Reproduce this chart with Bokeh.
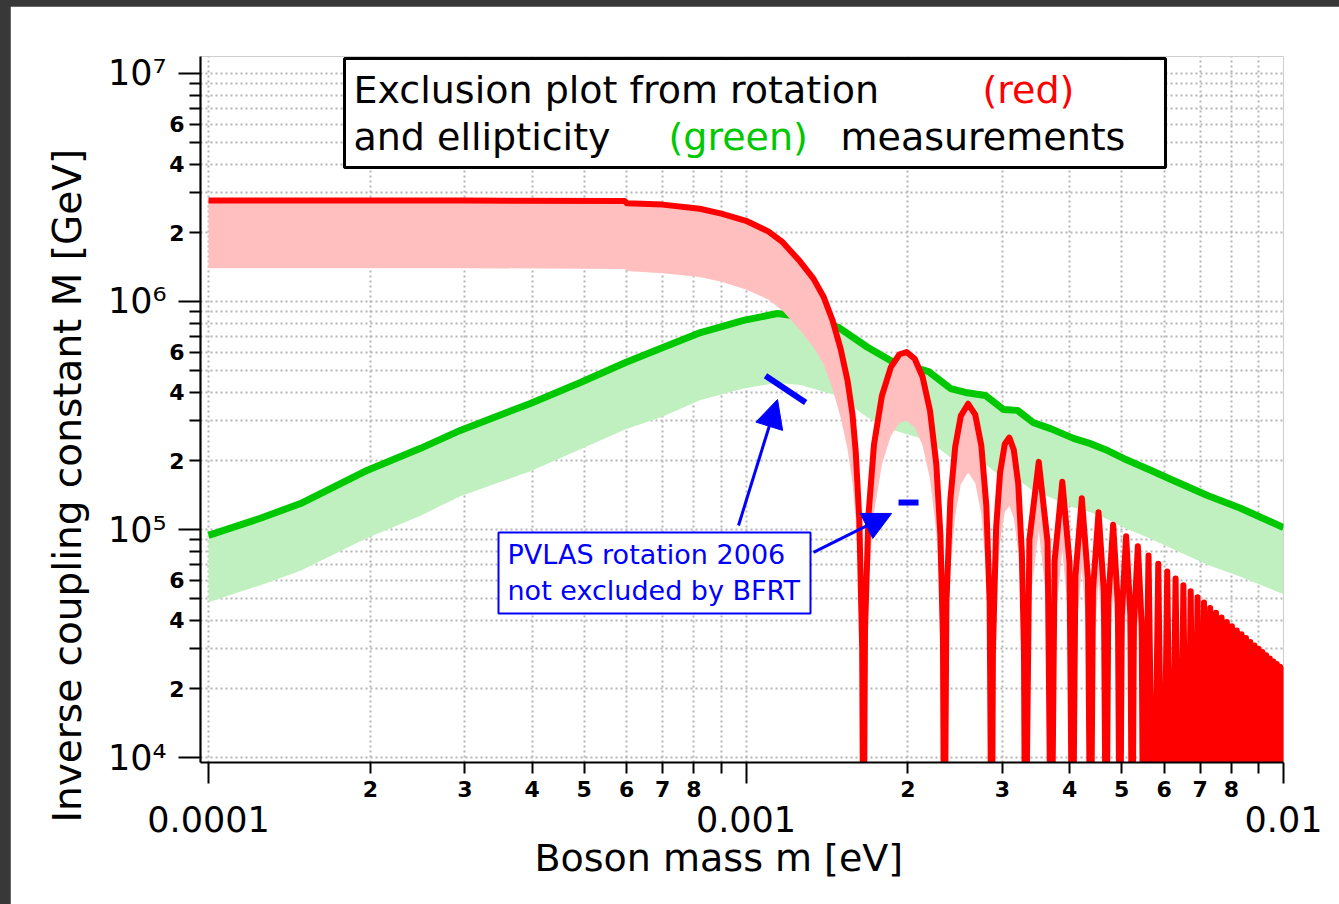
from bokeh.plotting import figure
from bokeh.models import (FixedTicker, LogAxis, Label, BoxAnnotation, Arrow,
                          NormalHead, Title)
from bokeh.embed import file_html
from bokeh.resources import INLINE

FONT = "DejaVu Sans"

# ---------------- data ----------------
x_decades = [1e-4, 1e-3, 1e-2]
x_decade_labels = ["0.0001", "0.001", "0.01"]
x_minor_mantissas = [2, 3, 4, 5, 6, 7, 8, 9]
x_minor_labels = ["2", "3", "4", "5", "6", "7", "8", ""]

y_decades = [1e4, 1e5, 1e6, 1e7]
y_decade_labels = ["10\u2074", "10\u2075", "10\u2076", "10\u2077"]
y_minor_mantissas = [2, 3, 4, 5, 6, 7, 8, 9]
y_minor_labels = ["2", "", "4", "", "6", "", "", ""]

# ellipticity (green): upper line and lower edge of the band
green_m = [1.0e-4, 1.249e-4, 1.483e-4, 1.976e-4, 2.48e-4, 2.94e-4, 3.97e-4, 4.92e-4,
           5.97e-4, 6.93e-4, 8.23e-4, 9.9e-4, 1.144e-3, 1.263e-3, 1.486e-3, 1.683e-3,
           1.857e-3, 2.186e-3, 2.402e-3, 2.561e-3, 2.79e-3, 3.013e-3, 3.2e-3, 3.427e-3,
           3.687e-3, 4.068e-3, 4.375e-3, 4.707e-3, 5.04e-3, 5.66e-3, 6.24e-3, 7.22e-3,
           8.32e-3, 1.0e-2]
green_hi = [9.42e4, 1.12e5, 1.30e5, 1.82e5, 2.27e5, 2.72e5, 3.57e5, 4.41e5,
            5.40e5, 6.22e5, 7.31e5, 8.26e5, 8.86e5, 8.6e5, 7.7e5, 6.3e5,
            5.51e5, 4.93e5, 4.15e5, 3.99e5, 3.87e5, 3.36e5, 3.33e5, 2.94e5,
            2.77e5, 2.51e5, 2.38e5, 2.22e5, 2.05e5, 1.82e5, 1.64e5, 1.41e5,
            1.24e5, 1.02e5]
green_lo = [4.8e4, 5.7e4, 6.6e4, 9.2e4, 1.15e5, 1.4e5, 1.8e5, 2.25e5,
            2.75e5, 3.1e5, 3.7e5, 4.15e5, 4.4e5, 4.3e5, 3.85e5, 3.1e5,
            2.75e5, 2.45e5, 2.07e5, 2.0e5, 1.93e5, 1.68e5, 1.66e5, 1.47e5,
            1.38e5, 1.25e5, 1.19e5, 1.11e5, 1.02e5, 9.1e4, 8.2e4, 7.0e4,
            6.2e4, 5.2e4]

# rotation (red): upper line and lower edge of the band
red_m = [
    1.0e-4, 3.0e-4, 5.95e-4, 6.0e-4, 7.0e-4, 8.2e-4, 9.0e-4, 1.0e-3, 1.1e-3, 1.17e-3,
    1.26e-3, 1.335e-3, 1.394e-3, 1.448e-3, 1.5e-3, 1.545e-3, 1.578e-3, 1.6e-3, 1.625e-3, 1.645e-3,
    1.654e-3,
    1.665e-3, 1.69e-3, 1.73e-3, 1.79e-3, 1.86e-3, 1.93e-3, 1.99e-3, 2.06e-3, 2.13e-3, 2.2e-3,
    2.26e-3, 2.3e-3, 2.325e-3, 2.339e-3,
    2.36e-3, 2.40e-3, 2.45e-3, 2.51e-3, 2.59e-3, 2.67e-3, 2.74e-3, 2.80e-3, 2.84e-3, 2.865e-3,
    2.88e-3, 2.92e-3, 2.97e-3, 3.03e-3, 3.09e-3, 3.15e-3, 3.21e-3, 3.26e-3, 3.29e-3, 3.308e-3,
    3.367e-3, 3.505e-3, 3.64e-3, 3.698e-3,
    3.751e-3, 3.877e-3, 3.998e-3, 4.051e-3,
    4.10e-3, 4.215e-3, 4.327e-3, 4.376e-3,
    4.421e-3, 4.528e-3, 4.633e-3, 4.678e-3,
    4.721e-3, 4.82e-3, 4.919e-3, 4.962e-3,
    5.002e-3, 5.096e-3, 5.19e-3, 5.23e-3,
    5.268e-3, 5.358e-3, 5.448e-3, 5.486e-3,
    5.609e-3, 5.730e-3, 5.848e-3, 5.964e-3, 6.077e-3, 6.189e-3, 6.298e-3, 6.406e-3, 6.512e-3, 6.616e-3,
    6.719e-3, 6.820e-3, 6.919e-3, 7.017e-3, 7.114e-3, 7.210e-3, 7.304e-3, 7.397e-3, 7.489e-3, 7.580e-3,
    7.669e-3, 7.758e-3, 7.846e-3, 7.932e-3, 8.018e-3, 8.103e-3, 8.187e-3, 8.270e-3, 8.352e-3, 8.434e-3,
    8.515e-3, 8.594e-3, 8.674e-3, 8.752e-3, 8.830e-3, 8.907e-3, 8.984e-3, 9.059e-3, 9.135e-3, 9.209e-3,
    9.283e-3, 9.357e-3, 9.429e-3, 9.502e-3, 9.573e-3, 9.645e-3, 9.715e-3, 9.785e-3, 9.855e-3, 9.924e-3,
    9.993e-3, 1.006e-2,
]
red_hi = [
    2.77e6, 2.77e6, 2.76e6, 2.70e6, 2.66e6, 2.55e6, 2.43e6, 2.26e6, 2.03e6, 1.82e6,
    1.50e6, 1.26e6, 1.05e6, 8.3e5, 6.2e5, 4.5e5, 3.2e5, 2.2e5, 1.1e5, 3.0e4,
    2e3,
    3.6e4, 1.16e5, 2.35e5, 3.86e5, 5.15e5, 5.87e5, 6.0e5, 5.61e5, 4.68e5, 3.31e5,
    1.93e5, 9.4e4, 3.3e4, 2e3,
    4.8e4, 1.35e5, 2.3e5, 3.15e5, 3.56e5, 3.19e5, 2.34e5, 1.27e5, 4.8e4, 2e3,
    2.9e4, 1.02e5, 1.78e5, 2.37e5, 2.53e5, 2.23e5, 1.59e5, 7.9e4, 2.9e4, 2e3,
    9.0e4, 1.98e5, 8.8e4, 2e3,
    7.3e4, 1.62e5, 7.2e4, 2e3,
    6.2e4, 1.37e5, 6.1e4, 2e3,
    5.4e4, 1.19e5, 5.3e4, 2e3,
    4.8e4, 1.05e5, 4.7e4, 2e3,
    4.2e4, 9.35e4, 4.2e4, 2e3,
    3.8e4, 8.45e4, 3.8e4, 2e3,
    7.7e4, 2e3, 7.08e4, 2e3, 6.55e4, 2e3, 6.1e4, 2e3, 5.7e4, 2e3,
    5.36e4, 2e3, 5.05e4, 2e3, 4.78e4, 2e3, 4.53e4, 2e3, 4.31e4, 2e3,
    4.11e4, 2e3, 3.93e4, 2e3, 3.76e4, 2e3, 3.61e4, 2e3, 3.47e4, 2e3,
    3.34e4, 2e3, 3.21e4, 2e3, 3.1e4, 2e3, 3.0e4, 2e3, 2.9e4, 2e3,
    2.81e4, 2e3, 2.72e4, 2e3, 2.64e4, 2e3, 2.57e4, 2e3, 2.5e4, 2e3,
    2.43e4, 2e3,
]
red_lo = [
    1.40e6, 1.40e6, 1.39e6, 1.36e6, 1.33e6, 1.28e6, 1.22e6, 1.13e6, 1.02e6, 9.1e5,
    7.5e5, 6.3e5, 5.3e5, 4.15e5, 3.1e5, 2.25e5, 1.6e5, 1.1e5, 5.5e4, 1.5e4,
    2e3,
    1.8e4, 5.8e4, 1.18e5, 1.93e5, 2.58e5, 2.94e5, 3.0e5, 2.8e5, 2.34e5, 1.66e5,
    9.7e4, 4.7e4, 1.65e4, 2e3,
    2.4e4, 6.8e4, 1.15e5, 1.58e5, 1.78e5, 1.6e5, 1.17e5, 6.4e4, 2.4e4, 2e3,
    1.45e4, 5.1e4, 8.9e4, 1.19e5, 1.27e5, 1.12e5, 8.0e4, 4.0e4, 1.45e4, 2e3,
    4.5e4, 9.9e4, 4.4e4, 2e3,
    3.65e4, 8.1e4, 3.6e4, 2e3,
    3.1e4, 6.85e4, 3.05e4, 2e3,
    2.7e4, 5.95e4, 2.65e4, 2e3,
    2.4e4, 5.25e4, 2.35e4, 2e3,
    2.1e4, 4.7e4, 2.1e4, 2e3,
    1.9e4, 4.2e4, 1.9e4, 2e3,
    3.85e4, 2e3, 3.54e4, 2e3, 3.28e4, 2e3, 3.05e4, 2e3, 2.85e4, 2e3,
    2.68e4, 2e3, 2.53e4, 2e3, 2.39e4, 2e3, 2.27e4, 2e3, 2.16e4, 2e3,
    2.06e4, 2e3, 1.97e4, 2e3, 1.88e4, 2e3, 1.8e4, 2e3, 1.74e4, 2e3,
    1.67e4, 2e3, 1.6e4, 2e3, 1.55e4, 2e3, 1.5e4, 2e3, 1.45e4, 2e3,
    1.4e4, 2e3, 1.36e4, 2e3, 1.32e4, 2e3, 1.28e4, 2e3, 1.25e4, 2e3,
    1.22e4, 2e3,
]
assert len(red_m) == len(red_hi) == len(red_lo)
assert len(green_m) == len(green_hi) == len(green_lo)

# PVLAS 2006 rotation region (blue marks)
pvlas_xs = [[1.087e-3, 1.291e-3], [1.922e-3, 2.094e-3]]
pvlas_ys = [[4.73e5, 3.61e5], [1.313e5, 1.313e5]]

# annotation arrows (data coordinates)
arrow_tail_x = [9.684e-4, 1.335e-3]
arrow_tail_y = [1.041e5, 7.93e4]
arrow_tip_x = [1.1446e-3, 1.866e-3]
arrow_tip_y = [3.717e5, 1.176e5]

# ---------------- figure ----------------
p = figure(width=1329, height=898, x_axis_type="log", y_axis_type="log",
           x_range=(9.663e-5, 1e-2), y_range=(9.508e3, 1.1872e7),
           output_backend="svg", toolbar_location=None,
           min_border_left=190, min_border_right=56,
           min_border_top=50, min_border_bottom=142)
p.margin = (6, 0, 0, 10)
p.background_fill_color = "white"
p.border_fill_color = "white"
p.outline_line_color = None

x_minor_pos = [m * d for d in x_decades[:-1] for m in x_minor_mantissas]
x_minor_txt = [t for d in x_decades[:-1] for t in x_minor_labels]
y_minor_pos = [m * d for d in y_decades[:-1] for m in y_minor_mantissas]
y_minor_txt = [t for d in y_decades[:-1] for t in y_minor_labels]

# grid
p.xgrid.ticker = FixedTicker(ticks=x_decades + x_minor_pos)
p.ygrid.ticker = FixedTicker(ticks=y_decades + y_minor_pos)
p.grid.grid_line_color = "#b5b5b5"
p.grid.grid_line_dash = "2 3"
p.grid.grid_line_width = 2


def style_tick_axis(ax, tick_pos, tick_txt, decades, long_len, standoff):
    ax.ticker = FixedTicker(ticks=tick_pos, minor_ticks=decades)
    ax.major_label_overrides = dict(zip(tick_pos, tick_txt))
    ax.axis_line_color = "black"
    ax.axis_line_width = 2.2
    ax.major_tick_line_color = "black"
    ax.major_tick_line_width = 2
    ax.minor_tick_line_color = "black"
    ax.minor_tick_line_width = 2
    ax.major_tick_out = 11
    ax.major_tick_in = 0
    ax.minor_tick_out = long_len
    ax.minor_tick_in = 0
    ax.major_label_text_font = FONT
    ax.major_label_text_font_size = "22px"
    ax.major_label_text_font_style = "bold"
    ax.major_label_text_color = "black"
    ax.major_label_standoff = standoff


style_tick_axis(p.xaxis[0], x_minor_pos, x_minor_txt, x_decades, 21, -3)
style_tick_axis(p.yaxis[0], y_minor_pos, y_minor_txt, y_decades, 22, -6)


def label_axis(ticks, texts, size, standoff):
    return LogAxis(ticker=FixedTicker(ticks=ticks, minor_ticks=[]),
                   major_label_overrides=dict(zip(ticks, texts)),
                   axis_line_color=None, major_tick_line_color=None,
                   minor_tick_line_color=None, major_tick_out=0, major_tick_in=0,
                   minor_tick_out=0, minor_tick_in=0,
                   major_label_text_font=FONT, major_label_text_font_size=size,
                   major_label_text_color="black", major_label_standoff=standoff)


p.add_layout(label_axis(x_decades, x_decade_labels, "35px", 6), "below")
p.add_layout(label_axis(y_decades, y_decade_labels, "35px", 0), "left")

# axis titles
p.add_layout(Title(text="Boson mass m [eV]", align="left", offset=334,
                   text_font=FONT, text_font_size="38px", text_font_style="normal",
                   text_color="black", standoff=-2), "below")
p.add_layout(Title(text="Inverse coupling constant M [GeV]", align="left", offset=-60,
                   text_font=FONT, text_font_size="39px", text_font_style="normal",
                   text_color="black", standoff=29), "left")

# ---------------- data marks ----------------
p.varea(x=green_m, y1=green_lo, y2=green_hi, fill_color="#c0f0c0", fill_alpha=1)
p.line(green_m, green_hi, line_color="#00c800", line_width=7, line_join="round")
p.varea(x=red_m, y1=red_lo, y2=red_hi, fill_color="#ffbfbf", fill_alpha=1)
p.line(red_m, red_hi, line_color="#ff0000", line_width=6, line_join="round")
p.multi_line(xs=pvlas_xs, ys=pvlas_ys, line_color="#0000ff", line_width=6)

for xs, ys, xe, ye in zip(arrow_tail_x, arrow_tail_y, arrow_tip_x, arrow_tip_y):
    p.add_layout(Arrow(end=NormalHead(size=28, fill_color="#0000ff", line_color="#0000ff",
                                      line_width=1),
                       x_start=xs, y_start=ys, x_end=xe, y_end=ye,
                       line_color="#0000ff", line_width=3))

# ---------------- legend box ----------------
p.add_layout(BoxAnnotation(left=144, right=965, bottom=595, top=704,
                           left_units="screen", right_units="screen",
                           bottom_units="screen", top_units="screen",
                           fill_color="white", fill_alpha=1,
                           line_color="black", line_alpha=1, line_width=3))
legend_items = [
    ("Exclusion plot from rotation", 153, 673, "black"),
    ("(red)", 782, 673, "#ff0000"),
    ("and ellipticity", 153, 626, "black"),
    ("(green)", 468, 626, "#00c800"),
    ("measurements", 640, 626, "black"),
]
for txt, x, y, c in legend_items:
    p.add_layout(Label(x=x, y=y, x_units="screen", y_units="screen", text=txt,
                       text_font=FONT, text_font_size="38px", text_color=c,
                       text_align="left", text_baseline="alphabetic"))

# ---------------- PVLAS note box ----------------
p.add_layout(BoxAnnotation(left=298, right=610, bottom=149, top=230,
                           left_units="screen", right_units="screen",
                           bottom_units="screen", top_units="screen",
                           fill_color="white", fill_alpha=1,
                           line_color="#0000ff", line_alpha=1, line_width=2))
for txt, y in [("PVLAS rotation 2006", 208), ("not excluded by BFRT", 172)]:
    p.add_layout(Label(x=307, y=y, x_units="screen", y_units="screen", text=txt,
                       text_font=FONT, text_font_size="27px", text_color="#0000ff",
                       text_align="left", text_baseline="alphabetic"))

html = file_html(p, INLINE, "Exclusion plot")
html = html.replace("</head>",
                    "<style>html, body { background-color: #383838; margin: 0; }</style></head>", 1)
open("out.html", "w").write(html)
